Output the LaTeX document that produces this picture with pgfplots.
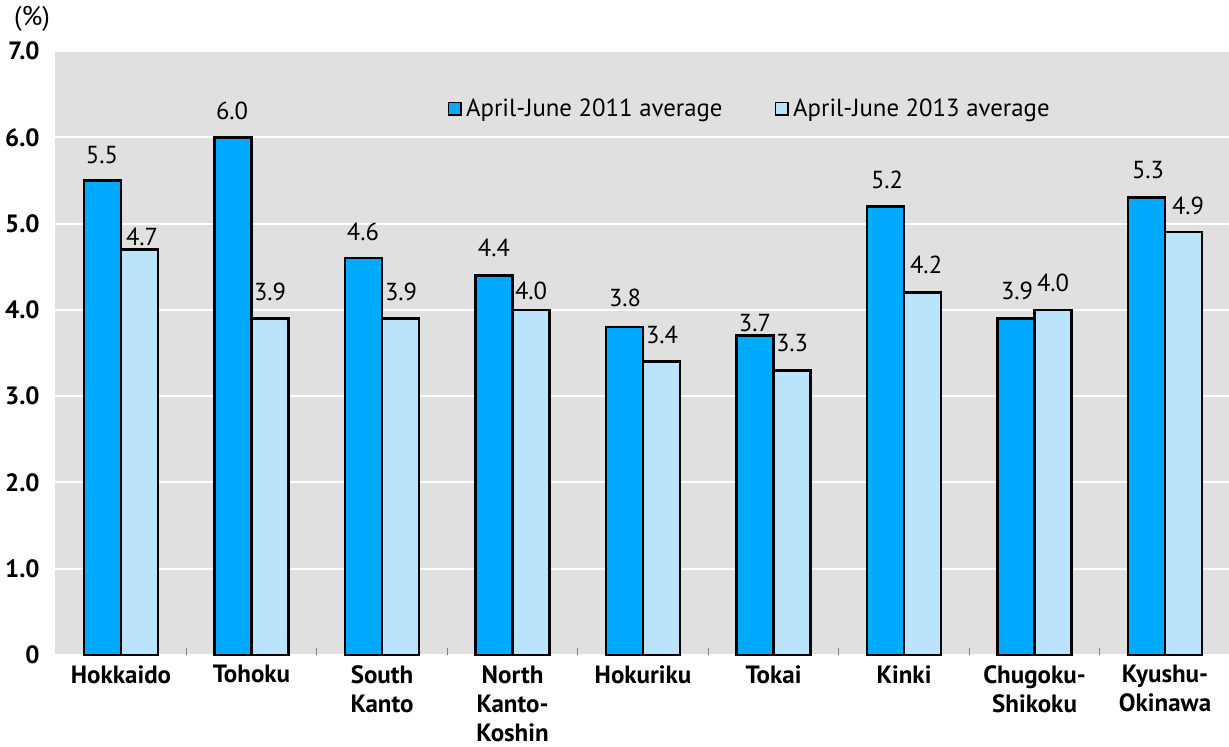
\documentclass[border=0pt]{standalone}
\usepackage{pgfplots}
\pgfplotsset{compat=1.18}
\usepackage{fontspec}
\setmainfont{PT Sans}
\usetikzlibrary{calc}
\definecolor{cdark}{RGB}{0,171,255}
\definecolor{clight}{RGB}{186,228,252}
\definecolor{cbg}{RGB}{224,224,224}
\begin{document}
\begin{tikzpicture}
\begin{axis}[
  name=ax,
  scale only axis,
  width=587pt, height=302pt,
  xmin=-0.506, xmax=8.49,
  ymin=0, ymax=7,
  axis background/.style={fill=cbg},
  axis line style={draw=none},
  clip=false,
  xtick={0,...,8},
  xticklabels={Hokkaido,Tohoku,South\\Kanto,North\\Kanto-\\Koshin,Hokuriku,Tokai,Kinki,Chugoku-\\Shikoku,Kyushu-\\Okinawa},
  xticklabel style={font=\fontsize{12.5}{14.5}\selectfont\bfseries, align=center, anchor=north, inner sep=0pt, yshift=-5pt},
  major x tick style={draw=none},
  minor xtick={0.5,1.5,...,7.5},
  minor tick length=3.5pt,
  minor x tick style={gray, line width=0.6pt},
  xtick pos=bottom,
  ytick={0,1,...,7},
  yticklabels={0,1.0,2.0,3.0,4.0,5.0,6.0,7.0},
  yticklabel style={font=\fontsize{12.5}{14}\selectfont\bfseries, anchor=east, inner sep=0pt, xshift=-7.5pt},
  major y tick style={draw=none},
  ymajorgrids,
  grid style={white, line width=1pt},
  legend columns=2,
  legend style={draw=none, fill=none, inner sep=0pt, at={(0.334,0.904)}, anchor=west,
    font=\fontsize{12.4}{14}\selectfont, /tikz/every even column/.append style={column sep=24pt}},
  legend cell align=left,
  legend image code/.code={\draw[#1, line width=0.9pt] (0pt,-3.2pt) rectangle (6.4pt,3.2pt);},
]
\addplot[ybar, bar width=0.2835, bar shift=-0.1418, fill=cdark, draw=black, line width=1.3pt]
  coordinates {(0,5.5) (1,6.0) (2,4.6) (3,4.4) (4,3.8) (5,3.7) (6,5.2) (7,3.9) (8,5.3)};
\addlegendentry{April-June 2011 average}
\addplot[ybar, bar width=0.2835, bar shift=0.1418, fill=clight, draw=black, line width=1.3pt]
  coordinates {(0,4.7) (1,3.9) (2,3.9) (3,4.0) (4,3.4) (5,3.3) (6,4.2) (7,4.0) (8,4.9)};
\addlegendentry{April-June 2013 average}
\addplot[draw=none, mark=none, forget plot, nodes near coords, point meta=explicit symbolic,
  nodes near coords style={anchor=center, inner sep=0pt, font=\fontsize{12.3}{14}\selectfont, text=black}]
  table[meta=lab] {
x y lab
-0.146 5.794 5.5
0.161 4.844 4.7
0.851 6.304 6.0
1.142 4.207 3.9
1.854 4.902 4.6
2.146 4.207 3.9
2.858 4.717 4.4
3.142 4.218 4.0
3.862 4.137 3.8
4.146 3.708 3.4
4.858 3.847 3.7
5.142 3.616 3.3
5.870 5.505 5.2
6.169 4.520 4.2
6.866 4.218 3.9
7.142 4.311 4.0
7.870 5.621 5.3
8.176 5.203 4.9
};
\node[font=\fontsize{13.5}{15}\selectfont, anchor=center] at ($(rel axis cs:0,1)+(-11.5pt,16pt)$) {(\%)};
\end{axis}
\pgfresetboundingbox
\path ($(ax.south west)+(-27.5pt,-46pt)$) rectangle ($(ax.north east)+(0pt,25.5pt)$);
\end{tikzpicture}
\end{document}
